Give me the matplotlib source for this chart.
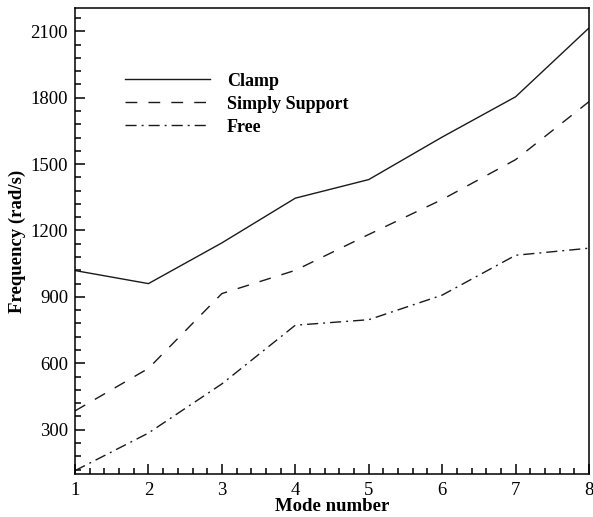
import matplotlib
matplotlib.use("Agg")
import matplotlib.pyplot as plt
from matplotlib.ticker import MultipleLocator

plt.rcParams['font.family'] = ['Liberation Serif', 'DejaVu Serif']

# mode numbers and frequencies (rad/s)
modes = [1, 2, 3, 4, 5, 6, 7, 8]
clamp = [1019, 960, 1144, 1346, 1430, 1622, 1804, 2115]
simply_support = [385, 577, 915, 1020, 1182, 1340, 1520, 1782]
free = [115, 285, 507, 772, 797, 908, 1088, 1120]

fig = plt.figure(figsize=(5.93, 5.17), dpi=100)
ax = fig.add_axes([0.1265, 0.0832, 0.8668, 0.9013])

ax.plot(modes, clamp, color='#1a1a1a', linewidth=1.0, label='Clamp')
ax.plot(modes, simply_support, color='#1a1a1a', linewidth=1.0,
        dashes=(8.5, 8), label='Simply Support')
ax.plot(modes, free, color='#1a1a1a', linewidth=1.0,
        dashes=(8, 3.6, 1.4, 3.6), label='Free')

ax.set_xlim(1, 8)
ax.set_ylim(100, 2205)
ax.xaxis.set_major_locator(MultipleLocator(1))
ax.xaxis.set_minor_locator(MultipleLocator(0.2))
ax.yaxis.set_major_locator(MultipleLocator(300))
ax.yaxis.set_minor_locator(MultipleLocator(60))
ax.tick_params(which='both', direction='in', top=False, right=False,
               labelsize=13.5, width=1.1, pad=5)
ax.tick_params(axis='x', which='major', pad=6)
ax.tick_params(which='major', length=7)
ax.tick_params(which='minor', length=4)
for s in ax.spines.values():
    s.set_linewidth(1.1)

ax.set_xlabel('Mode number', fontsize=13.5, fontweight='bold', labelpad=-0.8)
ax.set_ylabel('Frequency (rad/s)', fontsize=13.5, fontweight='bold', labelpad=3)

leg = ax.legend(loc='upper left', bbox_to_anchor=(0.097, 0.861), frameon=False,
                prop={'weight': 'bold', 'size': 13}, handlelength=4.7,
                handletextpad=0.95, labelspacing=0.33, borderpad=0,
                borderaxespad=0)

fig.savefig('out.png', dpi=100)
